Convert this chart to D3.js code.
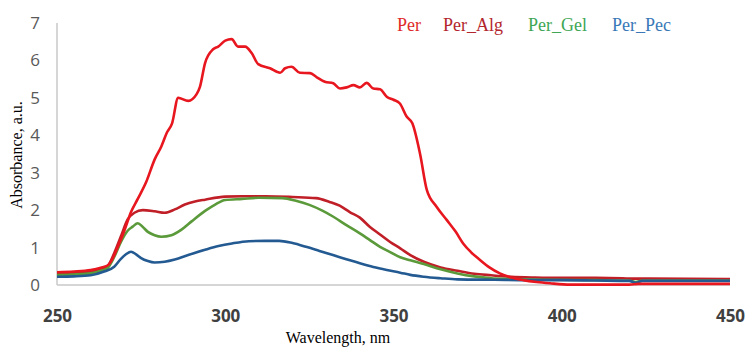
<!DOCTYPE html>
<html>
<head>
<meta charset="utf-8">
<script src="https://cdn.jsdelivr.net/npm/d3@7"></script>
<style>
  body { margin: 0; background: #fff; }
  svg { display: block; }
</style>
</head>
<body>
<div id="chart"></div>
<script>
// --- Données : [longueur d'onde (nm), absorbance]
const perData = [
  [250, 0.34], [255, 0.36], [260, 0.4], [263, 0.46], [265, 0.52], [266.5, 0.7], [268, 1.0],
  [270, 1.45], [272, 1.95], [274, 2.3], [276.5, 2.75], [279, 3.35], [281, 3.7], [282.7, 4.08],
  [284.2, 4.32], [286, 5.0], [289, 4.92], [291.5, 5.1], [292.5, 5.3], [294, 5.93], [296.4, 6.3],
  [297.9, 6.37], [300, 6.53], [301.9, 6.57], [303.8, 6.37], [305.9, 6.37], [307.9, 6.19],
  [309.8, 5.9], [313.3, 5.79], [316.3, 5.67], [317.8, 5.79], [319.7, 5.83], [322.2, 5.67],
  [325.2, 5.66], [327.2, 5.55], [329.6, 5.43], [332.1, 5.39], [334.1, 5.25], [336.1, 5.28],
  [338.1, 5.34], [340, 5.28], [342, 5.4], [344, 5.25], [346, 5.23], [348, 5.03], [350, 4.95],
  [351.9, 4.85], [353.9, 4.5], [355.6, 4.32], [357.9, 3.5], [359.9, 2.54], [362.8, 2.09],
  [365.8, 1.74], [368.5, 1.42], [370.7, 1.11], [373, 0.88], [375.7, 0.67], [378.5, 0.47],
  [381.6, 0.31], [385, 0.2], [388.6, 0.13], [392.5, 0.08], [396.5, 0.045], [402.5, 0.01],
  [420, 0.01], [423, 0.03], [450, 0.03]
];

const perAlgData = [
  [250, 0.3], [255, 0.32], [260, 0.35], [263, 0.42], [265, 0.5], [267, 0.85], [269, 1.3],
  [271, 1.75], [273, 1.93], [275.5, 2.0], [279, 1.97], [282, 1.93], [285, 2.02], [288, 2.15],
  [291, 2.23], [294, 2.28], [300, 2.36], [305, 2.37], [312, 2.37], [320, 2.35], [327, 2.32],
  [331, 2.22], [334, 2.12], [337, 1.95], [340, 1.8], [343, 1.55], [346, 1.35], [349, 1.15],
  [352, 0.98], [355, 0.8], [359, 0.62], [364, 0.47], [369, 0.38], [374, 0.3], [379, 0.26],
  [385, 0.22], [392, 0.2], [400, 0.19], [410, 0.19], [418, 0.18], [421, 0.17], [426, 0.17],
  [450, 0.16]
];

const perGelData = [
  [250, 0.27], [255, 0.28], [260, 0.31], [263, 0.38], [265, 0.45], [267, 0.75], [269, 1.15],
  [271, 1.45], [272.5, 1.56], [274, 1.65], [275.5, 1.55], [277, 1.42], [279, 1.33], [281, 1.29],
  [284, 1.33], [287, 1.48], [290, 1.7], [294, 1.98], [297, 2.15], [300, 2.27], [305, 2.3],
  [310, 2.33], [317, 2.32], [321, 2.25], [325, 2.14], [329, 1.98], [332, 1.83], [336, 1.6],
  [340, 1.38], [343, 1.2], [346, 1.02], [349, 0.88], [352, 0.74], [355, 0.66], [359, 0.56],
  [364, 0.42], [369, 0.31], [374, 0.23], [379, 0.18], [385, 0.16], [395, 0.14], [410, 0.13],
  [420, 0.12], [422, 0.08], [424, 0.12], [450, 0.12]
];

const perPecData = [
  [250, 0.22], [255, 0.23], [260, 0.26], [264, 0.36], [267, 0.49], [269, 0.7], [270.5, 0.82],
  [272, 0.89], [273.5, 0.82], [275, 0.72], [277, 0.64], [279, 0.6], [282, 0.62], [285, 0.68],
  [289, 0.8], [294, 0.94], [298, 1.04], [302, 1.11], [307, 1.17], [312, 1.18], [316, 1.18],
  [320, 1.12], [324, 1.02], [328, 0.91], [332, 0.8], [336, 0.69], [340, 0.58], [344, 0.48],
  [348, 0.4], [352, 0.33], [355, 0.27], [359, 0.22], [364, 0.18], [369, 0.15], [380, 0.14],
  [390, 0.13], [400, 0.13], [410, 0.12], [420, 0.11], [422, 0.06], [424, 0.11], [450, 0.11]
];

const seriesNames = ["Per", "Per_Alg", "Per_Gel", "Per_Pec"];
const xTicks = [250, 300, 350, 400, 450];
const yTicks = [0, 1, 2, 3, 4, 5, 6, 7];

// --- Mise en page
const width = 746;
const height = 347;

const series = [
  { name: "Per", data: perData, line: "#e8161e", legend: "#e02a2a" },
  { name: "Per_Alg", data: perAlgData, line: "#c01f28", legend: "#b3262d" },
  { name: "Per_Gel", data: perGelData, line: "#5b9a3a", legend: "#3ea655" },
  { name: "Per_Pec", data: perPecData, line: "#245a92", legend: "#3a78b8" }
];

const svg = d3.select("#chart")
  .append("svg")
  .attr("width", width)
  .attr("height", height);

const x = d3.scaleLinear().domain([250, 450]).range([57, 730]);
const y = d3.scaleLinear().domain([0, 7]).range([285, 23]);

// --- Axe Y
const yAxis = svg.append("g")
  .attr("transform", `translate(${x(250)},0)`)
  .call(d3.axisLeft(y).tickValues(yTicks).tickFormat(d3.format("d")).tickSize(0).tickPadding(17));
yAxis.select(".domain").remove();
yAxis.selectAll("text")
  .attr("fill", "#595959")
  .style("font-family", "'Open Sans', sans-serif")
  .style("font-size", "17px");

svg.append("line")
  .attr("x1", x(250)).attr("x2", x(250))
  .attr("y1", y(7)).attr("y2", y(0))
  .attr("stroke", "#c8c8c8")
  .attr("stroke-width", 1.5);

// --- Axe X
const xAxis = svg.append("g")
  .attr("transform", `translate(0,${y(0)})`)
  .call(d3.axisBottom(x).tickValues(xTicks).tickSize(0).tickPadding(25));
xAxis.select(".domain").remove();
xAxis.selectAll("text")
  .attr("fill", "#404040")
  .style("font-family", "'Open Sans', sans-serif")
  .style("font-weight", "bold")
  .style("font-size", "17px");

svg.append("line")
  .attr("x1", x(250)).attr("x2", x(450))
  .attr("y1", y(0)).attr("y2", y(0))
  .attr("stroke", "#c8c8c8")
  .attr("stroke-width", 1.5);

// --- Courbes
const line = d3.line()
  .x(d => x(d[0]))
  .y(d => y(d[1]))
  .curve(d3.curveMonotoneX);

svg.selectAll(".serie")
  .data(series)
  .join("path")
  .attr("class", "serie")
  .attr("fill", "none")
  .attr("stroke", d => d.line)
  .attr("stroke-width", 2.6)
  .attr("stroke-linejoin", "round")
  .attr("d", d => line(d.data));

// Per doit passer au-dessus des autres
svg.selectAll(".serie").filter(d => d.name === "Per").raise();

// --- Légende
const legendX = [397, 443, 528, 612];
svg.selectAll(".legende")
  .data(series)
  .join("text")
  .attr("class", "legende")
  .attr("x", (d, i) => legendX[i])
  .attr("y", 31)
  .attr("fill", d => d.legend)
  .style("font-family", "'Liberation Serif', serif")
  .style("font-size", "18px")
  .text((d, i) => seriesNames[i]);

// --- Titres des axes
svg.append("text")
  .attr("transform", `translate(22,155) rotate(-90)`)
  .attr("text-anchor", "middle")
  .attr("fill", "#000")
  .style("font-family", "'Liberation Serif', serif")
  .style("font-size", "16px")
  .text("Absorbance, a.u.");

svg.append("text")
  .attr("x", 338)
  .attr("y", 343)
  .attr("text-anchor", "middle")
  .attr("fill", "#000")
  .style("font-family", "'Liberation Serif', serif")
  .style("font-size", "16px")
  .text("Wavelength, nm");
</script>
</body>
</html>
